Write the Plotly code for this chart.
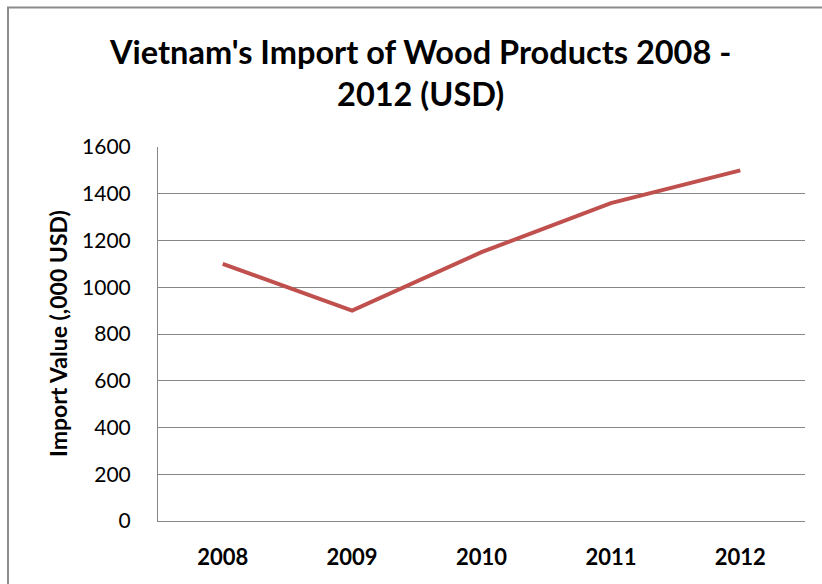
import plotly.graph_objects as go

# Annual import values, thousand USD
years = ["2008", "2009", "2010", "2011", "2012"]
import_values = [1100, 900, 1150, 1360, 1500]
y_ticks = [0, 200, 400, 600, 800, 1000, 1200, 1400, 1600]

W, H = 822, 584
L, R, T, B = 158, 17, 147, 63
plot_w = W - L - R
plot_h = H - T - B

grid_col = "#878787"
font_family = "Lato, 'Open Sans', sans-serif"


def px_x(px):
    """Pixel column -> paper x."""
    return (px - L) / plot_w


def px_y(py):
    """Pixel row -> paper y."""
    return (H - B - py) / plot_h


fig = go.Figure()
fig.add_trace(go.Scatter(
    x=years,
    y=import_values,
    mode="lines",
    line=dict(color="#C0504D", width=4),
    showlegend=False,
    hoverinfo="x+y",
))

# outer chart frame (right and bottom edges run off the page)
fig.add_shape(
    type="rect", xref="paper", yref="paper",
    x0=px_x(8), x1=px_x(840), y0=px_y(600), y1=px_y(7.5),
    line=dict(color="#8c8c8c", width=2), fillcolor="rgba(0,0,0,0)",
    layer="below",
)

# chart title
fig.add_annotation(
    text="<b>Vietnam's Import of Wood Products 2008 -<br>2012 (USD)</b>",
    xref="paper", yref="paper",
    x=px_x(420), y=px_y(30), xanchor="center", yanchor="top",
    showarrow=False, align="center",
    font=dict(size=32.5, family=font_family, color="#000000"),
)

# vertical axis title
fig.add_annotation(
    text="<b>Import Value (,000 USD)</b>",
    xref="paper", yref="paper",
    x=px_x(58), y=px_y(334), xanchor="center", yanchor="middle",
    textangle=-90, showarrow=False,
    font=dict(size=23, family=font_family, color="#000000"),
)

fig.update_layout(
    width=W, height=H,
    margin=dict(l=L, r=R, t=T, b=B),
    paper_bgcolor="white",
    plot_bgcolor="white",
    font=dict(family=font_family, color="#000000"),
    xaxis=dict(
        type="category",
        range=[-0.5, len(years) - 0.5],
        showgrid=False,
        showline=True, linecolor=grid_col, linewidth=1,
        ticks="",
        tickfont=dict(size=22, family=font_family, color="#000000", weight="bold"),
        ticklabelstandoff=17,
        fixedrange=True,
    ),
    yaxis=dict(
        range=[0, 1600],
        tickvals=y_ticks,
        showgrid=True, gridcolor=grid_col, gridwidth=1,
        showline=True, linecolor=grid_col, linewidth=1,
        zeroline=False,
        ticks="",
        tickfont=dict(size=21, family=font_family, color="#000000"),
        ticklabelstandoff=22,
        fixedrange=True,
    ),
)

fig.write_html("out.html")
